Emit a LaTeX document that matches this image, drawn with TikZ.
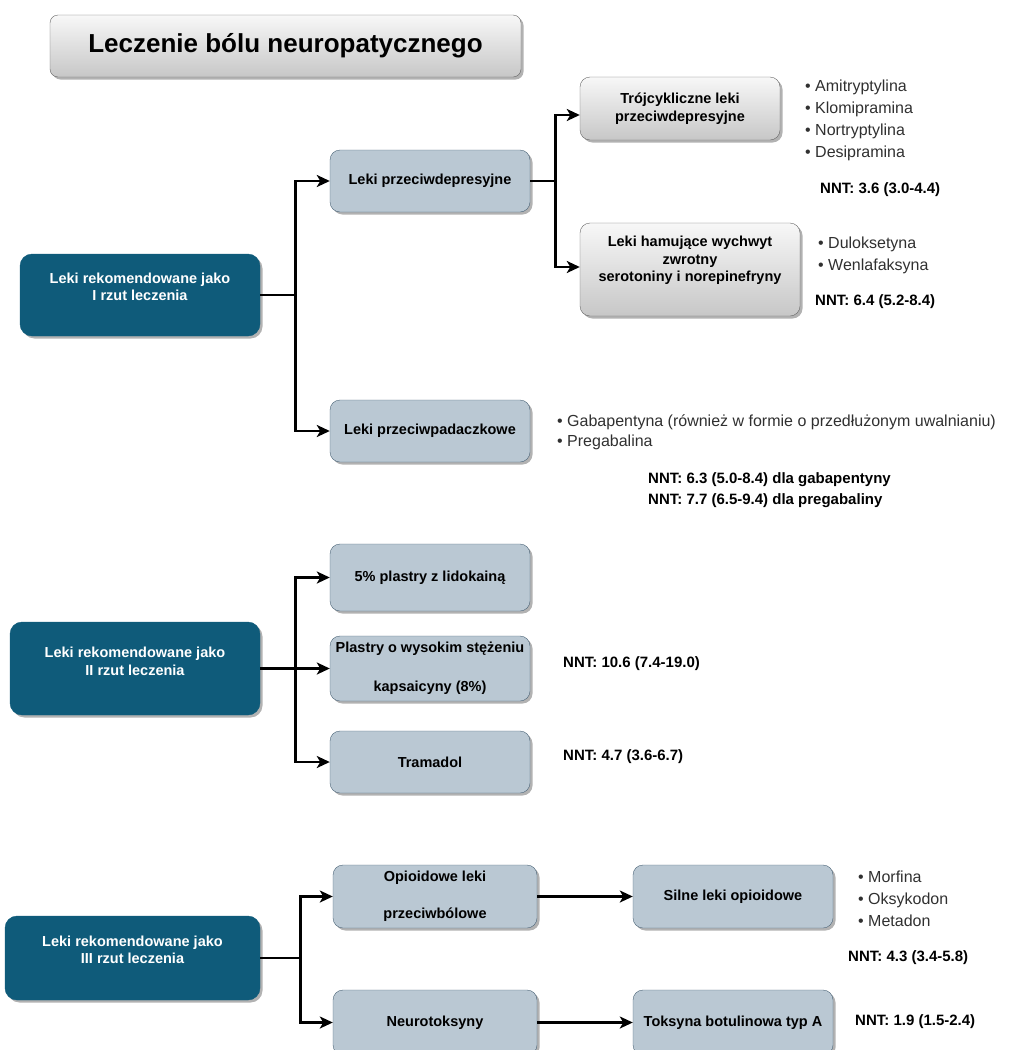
\documentclass[tikz,border=0pt]{standalone}
\usepackage{fontspec}
\setmainfont{Liberation Sans}
\usepackage{xcolor}
\usetikzlibrary{positioning,arrows.meta,shadows}
\definecolor{rzut}{HTML}{0F5B7A}
\definecolor{lek}{HTML}{BAC8D3}
\definecolor{lekline}{HTML}{4A6377}
\definecolor{lista}{HTML}{303030}

\begin{document}
\begin{tikzpicture}[x=1pt, y=-1pt, every node/.style={font=\fontsize{14.5}{17.5}\selectfont\bfseries}, shad/.style={drop shadow={shadow xshift=2.5pt, shadow yshift=-2.5pt, opacity=0.3, fill=black}}, rzutbox/.style={draw=rzut, fill=rzut, rounded corners=12pt, minimum width=240pt, shad}, lekbox/.style={draw=lekline, fill=lek, rounded corners=10pt, align=center, minimum width=200pt, minimum height=62pt, shad}, greybox/.style={draw=black!60, top color=black!3, bottom color=black!22, rounded corners=10pt, align=center, minimum width=200pt, minimum height=63pt, shad}, lista/.style={anchor=west, inner sep=0pt, align=left, text=lista, font=\fontsize{16}{22}\selectfont}, nnt/.style={anchor=west, inner sep=0pt, align=left, font=\fontsize{15}{21}\selectfont\bfseries}, arr/.style={-{Stealth[length=13pt, width=12pt, inset=3.5pt]}, line width=2.6pt}]
\useasboundingbox (0,0) rectangle (1030,1050);
\clip (0,0) rectangle (1030,1050);
\node[greybox, minimum width=471pt, minimum height=62pt, rounded corners=8pt, font=\fontsize{26}{30}\selectfont\bfseries] (title) at (285.5,46) {Leczenie bólu neuropatycznego};
\node[rzutbox, minimum height=82pt, label={[white, align=center, yshift=8pt]center:Leki rekomendowane jako\\I rzut leczenia}] (first) at (140,295) {};
\node[lekbox] (antidep) at (430,181) {Leki przeciwdepresyjne};
\node[lekbox] (antiepi) at (430,431) {Leki przeciwpadaczkowe};
\node[greybox] (tca) at (680,108.5) {Trójcykliczne leki\\przeciwdepresyjne};
\node[greybox, minimum width=220pt, minimum height=93pt, label={[align=center, yshift=9pt]center:Leki hamujące wychwyt\\zwrotny\\serotoniny i norepinefryny}] (snri) at (690,269.5) {};
\node[lista] (tcalist) at (805,120) {• Amitryptylina\\• Klomipramina\\• Nortryptylina\\• Desipramina};
\node[nnt] (tcannt) at (820,190) {NNT: 3.6 (3.0-4.4)};
\node[lista] (snrilist) at (818,255) {• Duloksetyna\\• Wenlafaksyna};
\node[nnt] (snrinnt) at (815,302) {NNT: 6.4 (5.2-8.4)};
\node[lista, font=\fontsize{16}{20}\selectfont] (epilist) at (557,432) {• Gabapentyna (również w formie o przedłużonym uwalnianiu)\\• Pregabalina};
\node[nnt] (epinnt) at (648,490) {NNT: 6.3 (5.0-8.4) dla gabapentyny\\NNT: 7.7 (6.5-9.4) dla pregabaliny};
\node[rzutbox, minimum width=250pt, minimum height=93pt, label={[white, align=center, yshift=7pt]center:Leki rekomendowane jako\\II rzut leczenia}] (second) at (135,668.5) {};
\node[lekbox, minimum height=67pt] (lido) at (430,577.5) {5\% plastry z lidokainą};
\node[lekbox, minimum height=65pt] (capsa) at (430,668.5) {Plastry o wysokim stężeniu\\[21.5pt]kapsaicyny (8\%)};
\node[lekbox] (trama) at (430,762) {Tramadol};
\node[nnt] (capsannt) at (563,664) {NNT: 10.6 (7.4-19.0)};
\node[nnt] (tramannt) at (563,757) {NNT: 4.7 (3.6-6.7)};
\node[rzutbox, minimum width=255pt, minimum height=84pt, label={[white, align=center, yshift=8pt]center:Leki rekomendowane jako\\III rzut leczenia}] (third) at (132.5,958) {};
\node[lekbox, minimum width=204pt, minimum height=63pt] (opioid) at (435,896.5) {Opioidowe leki\\[19.5pt]przeciwbólowe};
\node[lekbox, minimum width=204pt, minimum height=65pt] (neurotox) at (435,1022.5) {Neurotoksyny};
\node[lekbox, minimum height=63pt] (strong) at (733,896.5) {Silne leki opioidowe};
\node[lekbox, minimum height=65pt] (botox) at (733,1022.5) {Toksyna botulinowa typ A};
\node[lista] (opilist) at (858,899) {• Morfina\\• Oksykodon\\• Metadon};
\node[nnt] (opinnt) at (848,958) {NNT: 4.3 (3.4-5.8)};
\node[nnt] (botoxnnt) at (855,1022) {NNT: 1.9 (1.5-2.4)};
\draw[arr] (first.east) -- ++(35,0) |- (antidep.west);
\draw[arr] (first.east) -- ++(35,0) |- (antiepi.west);
\draw[arr] (antidep.east) -- ++(25,0) |- ([yshift=-6.5pt]tca.west);
\draw[arr] (antidep.east) -- ++(25,0) |- ([yshift=2.5pt]snri.west);
\draw[arr] (second.east) -- ++(35,0) |- (lido.west);
\draw[arr] (second.east) -- (capsa.west);
\draw[arr] (second.east) -- ++(35,0) |- (trama.west);
\draw[arr] (third.east) -- ++(40,0) |- (opioid.west);
\draw[arr] (third.east) -- ++(40,0) |- (neurotox.west);
\draw[arr] (opioid) -- (strong);
\draw[arr] (neurotox) -- (botox);
\end{tikzpicture}
\end{document}
